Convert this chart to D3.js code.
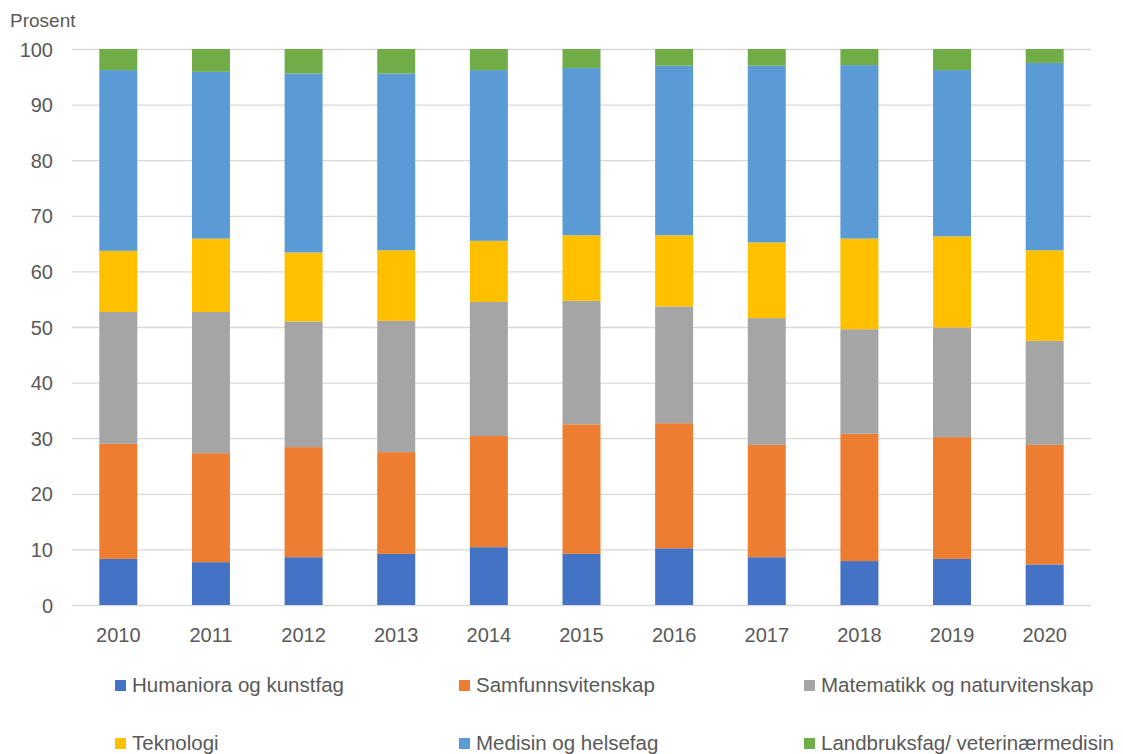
<!DOCTYPE html>
<html>
<head>
<meta charset="utf-8">
<script src="https://d3js.org/d3.v7.min.js"></script>
<style>
  body { margin: 0; background: #fff; }
  text { font-family: "Liberation Sans", Arial, sans-serif; fill: #595959; }
</style>
</head>
<body>
<div id="chart"></div>
<script>
// data (prosent per år)
var years = ["2010", "2011", "2012", "2013", "2014", "2015", "2016", "2017", "2018", "2019", "2020"];
var seriesNames = ["Humaniora og kunstfag", "Samfunnsvitenskap", "Matematikk og naturvitenskap",
  "Teknologi", "Medisin og helsefag", "Landbruksfag/ veterinærmedisin"];
var humaniora   = [8.3, 7.7, 8.6, 9.2, 10.4, 9.2, 10.2, 8.6, 7.9, 8.3, 7.3];
var samfunn     = [20.7, 19.6, 19.8, 18.3, 20.0, 23.3, 22.5, 20.2, 22.9, 21.9, 21.5];
var matematikk  = [23.7, 25.4, 22.6, 23.6, 24.1, 22.2, 21.0, 22.8, 18.8, 19.7, 18.7];
var teknologi   = [11.0, 13.2, 12.4, 12.7, 11.0, 11.8, 12.8, 13.6, 16.3, 16.4, 16.3];
var medisin     = [32.5, 30.0, 32.2, 31.8, 30.7, 30.1, 30.5, 31.8, 31.2, 29.9, 33.7];
var landbruk    = [3.8, 4.1, 4.4, 4.4, 3.8, 3.4, 3.0, 3.0, 2.9, 3.8, 2.5];
var yTicks = [0, 10, 20, 30, 40, 50, 60, 70, 80, 90, 100];

var colors = ["#4472C4", "#ED7D31", "#A5A5A5", "#FFC000", "#5B9BD5", "#70AD47"];

var width = 1123;
var height = 754;
var margin = { left: 72, right: 32, top: 49, bottom: 149 };

// tabell for d3.stack
var allSeries = [humaniora, samfunn, matematikk, teknologi, medisin, landbruk];
var table = years.map(function (y, i) {
  var row = { year: y };
  seriesNames.forEach(function (name, k) { row[name] = allSeries[k][i]; });
  return row;
});
var stacked = d3.stack().keys(seriesNames)(table);

var svg = d3.select("#chart").append("svg")
  .attr("width", width).attr("height", height);

var xScale = d3.scaleBand()
  .domain(years)
  .range([margin.left, width - margin.right])
  .paddingInner(0.59)
  .paddingOuter(0.295);

var yScale = d3.scaleLinear()
  .domain([0, 100])
  .range([height - margin.bottom, margin.top]);

// gridlines + y-akse
var yAxis = svg.append("g")
  .attr("transform", "translate(" + margin.left + ",0)")
  .call(d3.axisLeft(yScale).tickValues(yTicks)
    .tickSize(-(width - margin.left - margin.right)).tickPadding(19));
yAxis.select(".domain").remove();
yAxis.selectAll(".tick line").attr("stroke", "#d9d9d9").attr("stroke-width", 1.3);
yAxis.selectAll(".tick text").style("font-size", "20px").attr("dy", "0.35em");

// x-akse
var xAxis = svg.append("g")
  .attr("transform", "translate(0," + (height - margin.bottom) + ")")
  .call(d3.axisBottom(xScale).tickSize(0).tickPadding(23));
xAxis.select(".domain").remove();
xAxis.selectAll(".tick text").style("font-size", "20px");

// stolper
svg.append("g")
  .selectAll("g")
  .data(stacked)
  .enter()
  .append("g")
  .attr("fill", function (d, i) { return colors[i]; })
  .selectAll("rect")
  .data(function (d) { return d; })
  .enter()
  .append("rect")
  .attr("x", function (d) { return xScale(d.data.year); })
  .attr("y", function (d) { return yScale(d[1]); })
  .attr("width", xScale.bandwidth())
  .attr("height", function (d) { return yScale(d[0]) - yScale(d[1]); });

// akse-tittel
svg.append("text")
  .attr("x", 10).attr("y", 27)
  .style("font-size", "19px")
  .text("Prosent");

// legend, 3 kolonner x 2 rader
var legendX = [115, 459, 804];
var legendY = [685, 743];
var legend = svg.append("g")
  .selectAll("g")
  .data(seriesNames)
  .enter()
  .append("g")
  .attr("transform", function (d, i) {
    return "translate(" + legendX[i % 3] + "," + legendY[Math.floor(i / 3)] + ")";
  });
legend.append("rect")
  .attr("x", 0).attr("y", -5)
  .attr("width", 11).attr("height", 11)
  .attr("fill", function (d, i) { return colors[i]; });
legend.append("text")
  .attr("x", 17).attr("y", 0).attr("dy", "0.35em")
  .style("font-size", "20.5px")
  .text(function (d) { return d; });
</script>
</body>
</html>
